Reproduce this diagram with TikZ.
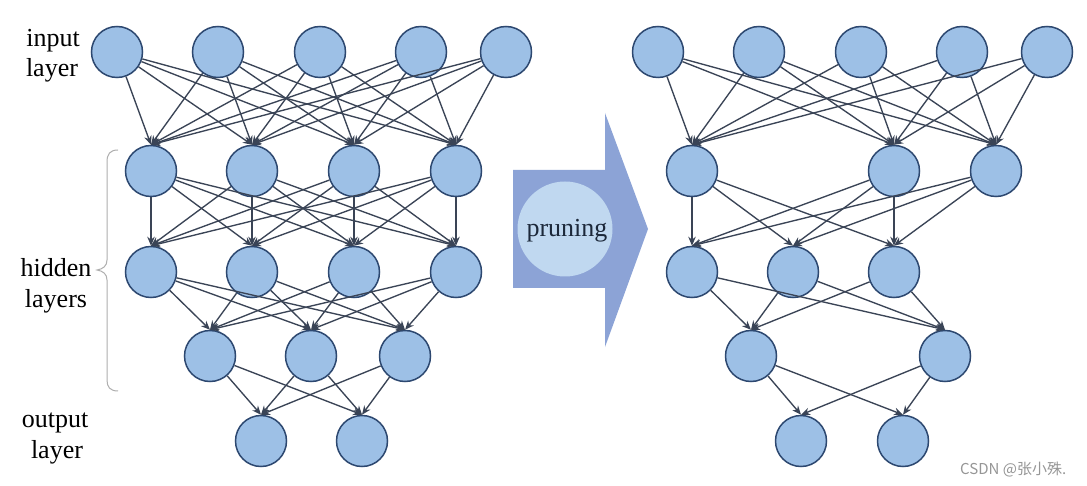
\documentclass[tikz,border=0pt]{standalone}
\usepackage{fontspec}
\setmainfont{Liberation Serif}
\newfontfamily\cjkfont{Noto Sans CJK SC}
\usetikzlibrary{arrows.meta}
\definecolor{nodefill}{RGB}{157,192,230}
\definecolor{nodeline}{RGB}{45,72,112}
\definecolor{edgecol}{RGB}{58,68,86}
\definecolor{tipcol}{RGB}{36,58,108}
\definecolor{arrowfill}{RGB}{140,163,214}
\definecolor{prunefill}{RGB}{192,216,240}
\definecolor{prunetext}{RGB}{28,40,58}
\definecolor{bracecol}{RGB}{175,175,175}
\definecolor{wmcol}{RGB}{150,150,150}
\tikzset{
  neuron/.style={circle, draw=nodeline, fill=nodefill, line width=1.5pt, minimum size=51pt, inner sep=0pt},
  edge/.style={draw=edgecol, line width=1.35pt, -{Stealth[length=9pt,width=7.5pt,fill=tipcol]}},
  lbl/.style={anchor=base, font=\fontsize{26}{30}\selectfont, text=black, inner sep=0pt},
}
\begin{document}
\begin{tikzpicture}[x=1pt,y=-1pt]
\fill[white] (0,0) rectangle (1087,486);
\useasboundingbox (0,0) rectangle (1087,486);

% labels
\node[lbl] (l1) at (53,47) {input};
\node[lbl] (l2) at (52,77) {layer};
\node[lbl] (l3) at (56,277) {hidden};
\node[lbl] (l4) at (56,308) {layers};
\node[lbl] (l5) at (55,427) {output};
\node[lbl] (l6) at (57,458) {layer};

% brace
\draw[bracecol, line width=1pt] (118,150) .. controls (110,150) and (107,154) .. (107,162)
  -- (107,260) .. controls (107,266) and (103,269) .. (97,270)
  .. controls (103,271) and (107,274) .. (107,280)
  -- (107,380) .. controls (107,387) and (110,391) .. (118,391);

% pruning arrow
\fill[arrowfill] (513,170) -- (605,170) -- (605,113) -- (648,229) -- (605,347) -- (605,288) -- (513,288) -- cycle;
\node[circle, fill=prunefill, minimum size=95pt, inner sep=0pt] (pc) at (565,229) {};
\node[lbl, text=prunetext] (pt) at (567,237) {pruning};

% left network
\foreach \x [count=\i] in {117,218,320,421,506} \node[neuron] (a\i) at (\x,52) {};
\foreach \x [count=\i] in {151,252,354,456} \node[neuron] (b\i) at (\x,171) {};
\foreach \x [count=\i] in {151,252,354,456} \node[neuron] (c\i) at (\x,272) {};
\foreach \x [count=\i] in {210,311,405} \node[neuron] (d\i) at (\x,356) {};
\foreach \x [count=\i] in {261,362} \node[neuron] (e\i) at (\x,441) {};

\foreach \i in {1,...,5} \foreach \j in {1,...,4} \draw[edge] (a\i) -- (b\j.north);
\foreach \i in {1,...,4} \foreach \j in {1,...,4} \draw[edge] (b\i) -- (c\j.north);
\foreach \i in {1,...,4} \foreach \j in {1,...,3} \draw[edge] (c\i) -- (d\j.north);
\foreach \i in {1,...,3} \foreach \j in {1,2} \draw[edge] (d\i) -- (e\j.north);

% right network
\foreach \x [count=\i] in {658,759,861,962,1047} \node[neuron] (A\i) at (\x,52) {};
\foreach \x [count=\i] in {692,894,996} \node[neuron] (B\i) at (\x,171) {};
\foreach \x [count=\i] in {692,793,894} \node[neuron] (C\i) at (\x,272) {};
\foreach \x [count=\i] in {751,945} \node[neuron] (D\i) at (\x,356) {};
\foreach \x [count=\i] in {801,903} \node[neuron] (E\i) at (\x,441) {};

\foreach \i in {1,...,5} \foreach \j in {1,...,3} \draw[edge] (A\i) -- (B\j.north);
\foreach \i in {1,...,3} \foreach \j in {1,...,3} \draw[edge] (B\i) -- (C\j.north);
\foreach \i in {1,...,3} \foreach \j in {1,2} \draw[edge] (C\i) -- (D\j.north);
\foreach \i in {1,2} \foreach \j in {1,2} \draw[edge] (D\i) -- (E\j.north);

% watermark
\node[anchor=base west, inner sep=0pt, text=wmcol, font=\cjkfont\fontsize{15}{18}\selectfont] (wm) at (960,474) {CSDN @张小殊.};
\end{tikzpicture}
\end{document}
